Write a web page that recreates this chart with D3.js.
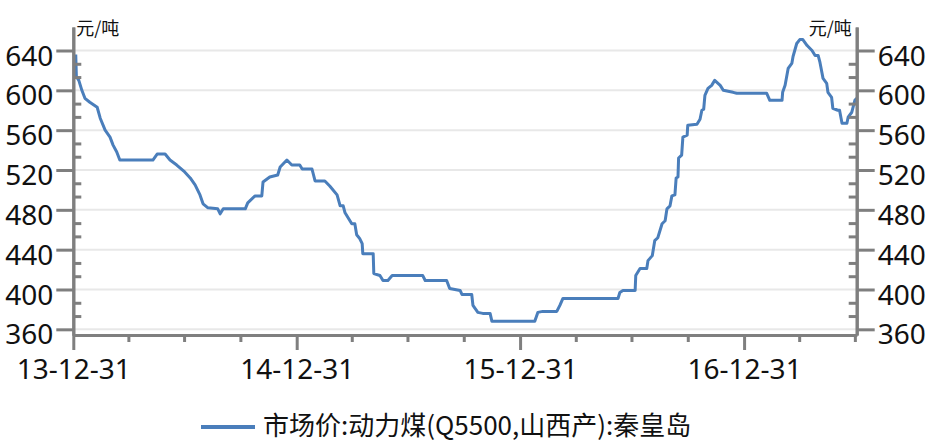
<!DOCTYPE html>
<html>
<head>
<meta charset="utf-8">
<script src="https://cdn.jsdelivr.net/npm/d3@7"></script>
<style>
  body { margin: 0; background: #fff; }
  svg { display: block; }
</style>
</head>
<body>
<figure id="line" style="margin:0"></figure>
<script>
// Weekly market price
const dates = [
  "2014-01-04", "2014-01-05", "2014-01-09", "2014-01-14", "2014-01-19", "2014-01-27", "2014-02-08",
  "2014-02-13", "2014-02-21", "2014-03-01", "2014-03-06", "2014-03-12", "2014-03-17", "2014-05-10",
  "2014-05-17", "2014-05-30", "2014-06-07", "2014-06-18", "2014-07-01", "2014-07-10", "2014-07-18",
  "2014-07-26", "2014-07-31", "2014-08-08", "2014-08-24", "2014-08-28", "2014-09-02", "2014-10-08",
  "2014-10-12", "2014-10-24", "2014-11-04", "2014-11-06", "2014-11-17", "2014-11-30", "2014-12-04",
  "2014-12-15", "2014-12-23", "2015-01-05", "2015-01-09", "2015-01-25", "2015-01-30", "2015-02-15",
  "2015-02-23", "2015-03-07", "2015-03-12", "2015-03-17", "2015-03-20", "2015-03-28", "2015-03-31",
  "2015-04-05", "2015-04-08", "2015-04-13", "2015-04-17", "2015-04-18", "2015-05-05", "2015-05-06",
  "2015-05-16", "2015-05-21", "2015-05-29", "2015-06-05", "2015-07-25", "2015-07-29", "2015-09-02",
  "2015-09-07", "2015-09-24", "2015-09-27", "2015-10-13", "2015-10-15", "2015-10-23", "2015-10-31",
  "2015-11-12", "2015-11-15", "2016-01-24", "2016-01-29", "2016-02-06", "2016-02-29", "2016-03-05",
  "2016-03-10", "2016-06-08", "2016-06-11", "2016-06-16", "2016-07-06", "2016-07-07", "2016-07-14",
  "2016-07-25", "2016-07-27", "2016-08-03", "2016-08-07", "2016-08-12", "2016-08-19", "2016-08-24",
  "2016-08-27", "2016-09-01", "2016-09-04", "2016-09-09", "2016-09-11", "2016-09-14", "2016-09-15",
  "2016-09-20", "2016-09-22", "2016-09-29", "2016-09-30", "2016-10-15", "2016-10-20", "2016-10-23",
  "2016-10-26", "2016-10-28", "2016-11-02", "2016-11-08", "2016-11-13", "2016-11-22", "2016-11-27",
  "2016-12-13", "2016-12-19", "2017-02-06", "2017-02-11", "2017-03-03", "2017-03-04", "2017-03-08",
  "2017-03-13", "2017-03-19", "2017-03-21", "2017-03-27", "2017-04-01", "2017-04-06", "2017-04-13",
  "2017-04-21", "2017-04-26", "2017-05-01", "2017-05-04", "2017-05-09", "2017-05-15", "2017-05-17",
  "2017-05-23", "2017-05-25", "2017-06-02", "2017-06-05", "2017-06-09", "2017-06-17", "2017-06-19",
  "2017-06-25", "2017-06-30", "2017-07-03"
];
const prices = [
  636, 614, 610, 600, 592, 588, 583,
  572, 560, 553, 545, 538, 530, 530,
  536, 536, 530, 525, 518, 512, 505,
  495, 486, 482, 481, 476, 481, 481,
  487, 494, 494, 508, 513, 515, 523,
  530, 525, 525, 521, 521, 509, 509,
  504, 495, 484, 484, 477, 469, 466,
  466, 455, 451, 446, 436, 436, 416,
  414, 409, 409, 414, 414, 409, 409,
  401, 399, 395, 395, 384, 377, 376,
  376, 368, 368, 377, 378, 378, 384,
  391, 391, 397, 399, 399, 414, 421,
  421, 429, 434, 449, 452, 466, 469,
  481, 484, 494, 495, 512, 513, 532,
  535, 553, 555, 565, 566, 571, 580,
  581, 595, 602, 605, 610, 605, 600,
  598, 597, 597, 590, 590, 598, 605,
  622, 627, 634, 647, 651, 651, 645,
  640, 635, 635, 628, 612, 607, 598,
  593, 582, 580, 580, 567, 567, 573,
  578, 590, 592
];

const yTicks = [360, 400, 440, 480, 520, 560, 600, 640];
const xTicks = ["2013-12-31", "2014-12-31", "2015-12-31", "2016-12-31"];
const xStart = "2013-12-31";
const xEnd = "2017-07-03";
const unitLabel = "元/吨";
const seriesName = "市场价:动力煤(Q5500,山西产):秦皇岛";

const width = 926;
const height = 442;
const margin = { top: 27, right: 69.3, bottom: 107, left: 73.3 };
const innerW = width - margin.left - margin.right;
const innerH = height - margin.top - margin.bottom;

const axisColor = "#7f7f7f";
const lineColor = "#4a7ebb";
const numFont = "'Noto Sans', 'DejaVu Sans', sans-serif";
const cjkFont = "'Noto Sans CJK SC', 'Noto Sans', sans-serif";

const parse = d3.timeParse("%Y-%m-%d");
const data = dates.map((d, i) => ({ date: parse(d), value: prices[i] }));

const svg = d3.select("figure#line")
  .append("svg")
  .attr("width", width)
  .attr("height", height)
  .append("g")
  .attr("transform", "translate(" + margin.left + "," + margin.top + ")");

// Scales
const x = d3.scaleTime()
  .domain([parse(xStart), parse(xEnd)])
  .range([0, innerW]);

const y = d3.scaleLinear()
  .domain([354.3, 663.6])
  .range([innerH, 0]);

// two minor ticks between each pair of majors
const yMinor = [];
for (let i = 0; i < yTicks.length - 1; i++) {
  const step = (yTicks[i + 1] - yTicks[i]) / 3;
  yMinor.push(yTicks[i] + step, yTicks[i] + 2 * step);
}
// quarter ends on the time axis
const xMinor = d3.timeMonth.every(3)
  .range(parse("2014-01-01"), parse("2017-07-05"))
  .map(d => d3.timeDay.offset(d, -1))
  .filter(d => d.getMonth() !== 11);

// Grid lines
svg.append("g")
  .selectAll("line")
  .data(yTicks)
  .enter()
  .append("line")
  .attr("x1", 0)
  .attr("x2", innerW)
  .attr("y1", d => y(d))
  .attr("y2", d => y(d))
  .attr("stroke", "#e8e8e8")
  .attr("stroke-width", 2);

// Line
const line = d3.line()
  .x(d => x(d.date))
  .y(d => y(d.value));

svg.append("path")
  .datum(data)
  .attr("fill", "none")
  .attr("stroke", lineColor)
  .attr("stroke-width", 3)
  .attr("stroke-linejoin", "round")
  .attr("d", line);

function styleAxis(g) {
  g.select(".domain").attr("stroke", axisColor).attr("stroke-width", 3);
  g.selectAll(".tick line").attr("stroke", axisColor).attr("stroke-width", 3);
  g.selectAll("text")
    .attr("fill", "#111")
    .style("font-family", numFont)
    .style("font-size", "28px");
}

// Left axis: majors outward, minors inward
svg.append("g")
  .call(d3.axisLeft(y).tickValues(yMinor).tickSize(-8).tickSizeOuter(0).tickFormat(""))
  .call(styleAxis);
svg.append("g")
  .call(d3.axisLeft(y).tickValues(yTicks).tickSize(17).tickSizeOuter(0).tickPadding(3))
  .call(styleAxis)
  .selectAll("text").attr("dy", "0.52em");

// Right axis
svg.append("g")
  .attr("transform", "translate(" + innerW + ",0)")
  .call(d3.axisRight(y).tickValues(yMinor).tickSize(-8).tickSizeOuter(0).tickFormat(""))
  .call(styleAxis);
svg.append("g")
  .attr("transform", "translate(" + innerW + ",0)")
  .call(d3.axisRight(y).tickValues(yTicks).tickSize(18).tickSizeOuter(0).tickPadding(3))
  .call(styleAxis)
  .selectAll("text").attr("dy", "0.52em");

// Bottom axis
svg.append("g")
  .attr("transform", "translate(0," + innerH + ")")
  .call(d3.axisBottom(x).tickValues(xMinor).tickSize(7).tickSizeOuter(0).tickFormat(""))
  .call(styleAxis);
svg.append("g")
  .attr("transform", "translate(0," + innerH + ")")
  .call(d3.axisBottom(x).tickValues(xTicks.map(parse)).tickSize(15).tickSizeOuter(0)
    .tickPadding(9).tickFormat(d3.timeFormat("%y-%m-%d")))
  .call(styleAxis);

// Unit labels
svg.append("text")
  .attr("x", 3)
  .attr("y", 35 - margin.top)
  .attr("fill", "#111")
  .style("font-family", cjkFont)
  .style("font-size", "18px")
  .text(unitLabel);
svg.append("text")
  .attr("x", innerW - 5)
  .attr("y", 35 - margin.top)
  .attr("text-anchor", "end")
  .attr("fill", "#111")
  .style("font-family", cjkFont)
  .style("font-size", "18px")
  .text(unitLabel);

// Legend
const legend = svg.append("g")
  .attr("transform", "translate(" + (201 - margin.left) + "," + (427 - margin.top) + ")");
legend.append("line")
  .attr("x1", 0)
  .attr("x2", 54)
  .attr("stroke", lineColor)
  .attr("stroke-width", 4);
legend.append("text")
  .attr("x", 62)
  .attr("y", 8)
  .attr("fill", "#111")
  .style("font-family", cjkFont)
  .style("font-size", "26px")
  .text(seriesName);
</script>
</body>
</html>
